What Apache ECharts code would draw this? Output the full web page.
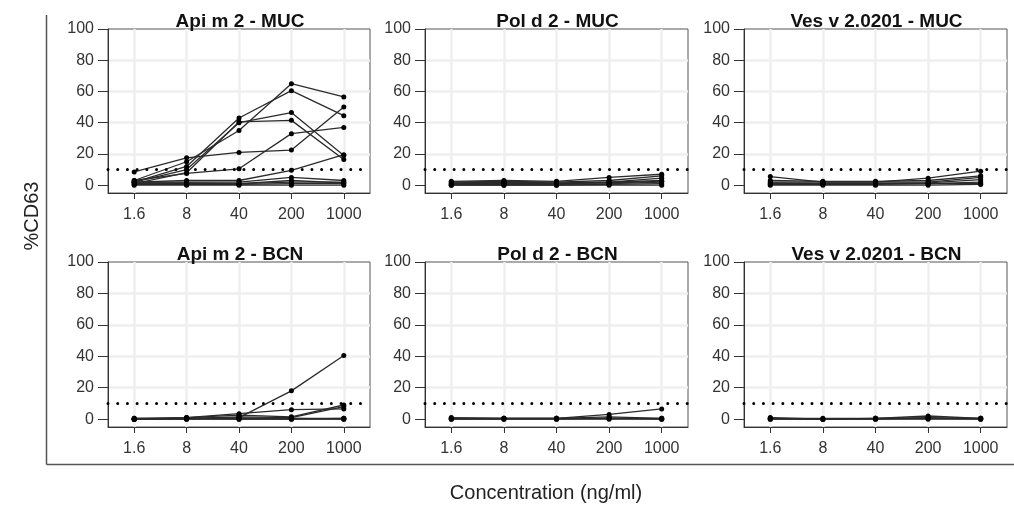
<!DOCTYPE html>
<html>
<head>
<meta charset="utf-8">
<script src="https://cdn.jsdelivr.net/npm/echarts@6/dist/echarts.min.js"></script>
<style>
html,body{margin:0;padding:0;background:#fff;}
#chart{width:1014px;height:508px;}
</style>
</head>
<body>
<div id="chart"></div>
<script>
// ---- data ----
const categories = ['1.6', '8', '40', '200', '1000'];
const yTicks = [0, 20, 40, 60, 80, 100];
const gridLinesY = [20, 40, 60, 80];
const threshold = 10;
const panelTitles = ['Api m 2 - MUC', 'Pol d 2 - MUC', 'Ves v 2.0201 - MUC',
                     'Api m 2 - BCN', 'Pol d 2 - BCN', 'Ves v 2.0201 - BCN'];
const xAxisTitle = 'Concentration (ng/ml)';
const yAxisTitle = '%CD63';

const apiMUC = [
  [3, 15, 35, 65, 56.5],
  [2, 12, 43, 60.5, 44.5],
  [2, 10, 40, 46.5, 19],
  [1, 8, 40.5, 41.5, 16.5],
  [8.5, 17.5, 21, 22.5, 50],
  [3, 7.5, 10.5, 33, 37],
  [2, 3, 3, 9.5, 19.5],
  [2, 2, 2, 5, 3],
  [1.5, 1.5, 1, 3, 1.5],
  [1, 1, 1, 2, 2],
  [0.5, 0.5, 0.5, 1, 1],
  [0, 0, 0, 0, 0]
];
const polMUC = [
  [2.5, 3, 2.5, 5, 7],
  [2, 2.5, 2, 3, 6],
  [1.5, 2, 1.5, 2, 4.5],
  [1, 1.5, 1, 1.5, 2.5],
  [1, 1, 1, 2, 3],
  [0.5, 0.5, 0.5, 1, 2],
  [0, 0, 0, 0.5, 1],
  [0, 0, 0, 0, 0]
];
const vesMUC = [
  [5.5, 2, 2, 4.5, 9],
  [3, 2.5, 2.5, 3, 6],
  [2, 2, 2, 2, 5],
  [1.5, 1, 1, 1, 1],
  [1, 1, 1, 1.5, 3.5],
  [0.5, 0.5, 0.5, 1, 2],
  [0, 0, 0, 0, 0.5]
];
const apiBCN = [
  [0, 0.5, 1, 18, 40.5],
  [0, 1, 3.5, 6, 6.5],
  [0.5, 1, 2.5, 1.5, 9],
  [0, 0.5, 1.5, 1, 8],
  [0.5, 0.5, 0.5, 0.5, 0.5],
  [0, 0, 0.5, 0.5, 0],
  [0, 0.5, 0, 0, 0.5],
  [0, 0, 0, 0, 0]
];
const polBCN = [
  [0.5, 0.5, 0.5, 3, 6.5],
  [1, 0.5, 0.5, 1.5, 0.5],
  [0.5, 0.5, 0.5, 0.5, 0.5],
  [0, 0, 0, 0.5, 0],
  [0, 0, 0, 0, 0]
];
const vesBCN = [
  [1, 0, 0.5, 2, 0.5],
  [0.5, 0, 0.5, 1, 0.5],
  [0.5, 0.5, 0.5, 0.5, 0.5],
  [0, 0, 0, 0.5, 0],
  [0, 0, 0, 0, 0]
];
const panels = [apiMUC, polMUC, vesMUC, apiBCN, polBCN, vesBCN];

// ---- layout ----
const FONT = 'Liberation Sans, Arial, sans-serif';
const colLefts = [108, 425, 744];
const colWidths = [262, 263, 263];
const rowTops = [29, 262];
const rowHeights = [164, 165];
const titleY = [21.5, 254.5];

const grids = [], xAxes = [], yAxes = [], series = [], graphics = [];

panels.forEach((panel, i) => {
  const r = Math.floor(i / 3), c = i % 3;
  grids.push({
    left: colLefts[c], top: rowTops[r], width: colWidths[c], height: rowHeights[r],
    show: true, borderColor: '#555', borderWidth: 1, backgroundColor: 'transparent',
    containLabel: false
  });
  xAxes.push({
    gridIndex: i, type: 'category', data: categories, boundaryGap: true,
    axisLine: { show: true, onZero: false, lineStyle: { color: '#333', width: 1 } },
    axisTick: { show: true, alignWithLabel: true, length: 6, lineStyle: { color: '#333' } },
    axisLabel: { margin: 14, fontSize: 16, color: '#333', fontFamily: FONT },
    splitLine: { show: false }
  });
  yAxes.push({
    gridIndex: i, type: 'value', min: -5, max: 100,
    axisLine: { show: true, onZero: false, lineStyle: { color: '#333', width: 1 } },
    axisTick: { show: true, length: 10, customValues: yTicks, lineStyle: { color: '#333' } },
    axisLabel: { customValues: yTicks, margin: 14, fontSize: 16, color: '#333', fontFamily: FONT },
    splitLine: { show: false }
  });
  // background grid lines
  series.push({
    type: 'line', xAxisIndex: i, yAxisIndex: i, data: [null, null, null, null, null],
    z: 0, silent: true, animation: false,
    markLine: {
      z: 0, silent: true, symbol: 'none', animation: false,
      label: { show: false },
      lineStyle: { color: '#efefef', width: 2.5, type: 'solid' },
      data: categories.map(cat => ({ xAxis: cat })).concat(gridLinesY.map(v => ({ yAxis: v })))
    }
  });
  // data lines
  panel.forEach(vals => {
    series.push({
      type: 'line', xAxisIndex: i, yAxisIndex: i, data: vals,
      symbol: 'circle', symbolSize: 5, showSymbol: true,
      lineStyle: { color: '#2b2b2b', width: 1.3 },
      itemStyle: { color: '#000', borderColor: '#000', borderWidth: 0, opacity: 1 },
      emphasis: { disabled: true },
      z: 3, animation: false, silent: true
    });
  });
  // threshold dotted line
  series.push({
    type: 'line', xAxisIndex: i, yAxisIndex: i, data: [null, null, null, null, null],
    z: 4, silent: true, animation: false,
    markLine: {
      z: 4, silent: true, symbol: 'none', animation: false,
      label: { show: false },
      lineStyle: { color: '#000', width: 3, type: [0.01, 9.7], cap: 'round' },
      data: [{ yAxis: threshold }]
    }
  });
  graphics.push({
    type: 'text', x: colLefts[c] + colWidths[c] / 2 + 1, y: titleY[r], z: 10,
    style: { text: panelTitles[i], font: 'bold 19px ' + FONT, fill: '#111',
             align: 'center', verticalAlign: 'middle' }
  });
});

graphics.push({
  type: 'text', x: 546, y: 493, z: 10,
  style: { text: xAxisTitle, font: '20px ' + FONT, fill: '#222', align: 'center', verticalAlign: 'middle' }
});
graphics.push({
  type: 'text', x: 32, y: 216, rotation: Math.PI / 2, z: 10,
  style: { text: yAxisTitle, font: '20px ' + FONT, fill: '#222', align: 'center', verticalAlign: 'middle' }
});
graphics.push({
  type: 'line', z: 10, shape: { x1: 46.5, y1: 15, x2: 46.5, y2: 464.5 },
  style: { stroke: '#555', lineWidth: 1.5 }
});
graphics.push({
  type: 'line', z: 10, shape: { x1: 46.5, y1: 464.5, x2: 1014, y2: 464.5 },
  style: { stroke: '#555', lineWidth: 1.5 }
});

const chart = echarts.init(document.getElementById('chart'), null, { renderer: 'canvas' });
chart.setOption({
  animation: false,
  backgroundColor: '#fff',
  grid: grids, xAxis: xAxes, yAxis: yAxes, series: series,
  graphic: graphics
});
</script>
</body>
</html>
